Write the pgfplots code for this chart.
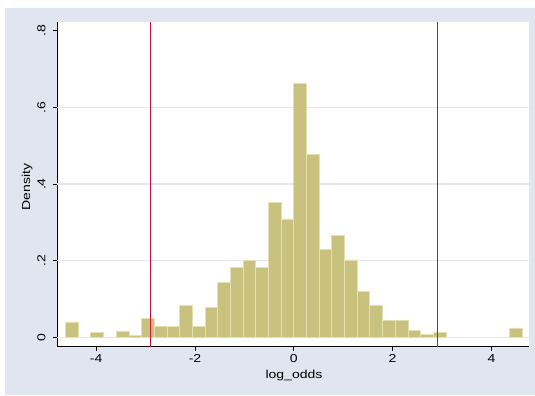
\documentclass[border=0pt]{standalone}
\usepackage{fontspec}
\setmainfont{Liberation Sans}[FakeStretch=1.22]
\usepackage{pgfplots}
\pgfplotsset{compat=1.18}
\definecolor{bgc}{RGB}{224,229,240}
\definecolor{barfill}{RGB}{201,193,126}
\definecolor{baredge}{RGB}{228,224,178}
\definecolor{xlinec}{RGB}{200,16,60}
\definecolor{gridc}{RGB}{226,231,241}
\begin{document}
\begin{tikzpicture}
\fill[white] (0bp,0bp) rectangle (535bp,396bp);
\fill[bgc] (5bp,1bp) rectangle (535bp,388bp);
\begin{axis}[
  at={(57.3bp,49.3bp)}, anchor=south west,
  width=472bp, height=324.7bp, scale only axis,
  xmin=-4.787, xmax=4.767, ymin=-0.0245, ymax=0.823,
  axis lines=left, axis line style={-, black, line width=0.8bp},
  axis background/.style={fill=white},
  xtick={-4,-2,0,2,4}, xticklabels={-4,-2,0,2,4},
  ytick={0,0.2,0.4,0.6,0.8}, yticklabels={0,.2,.4,.6,.8},
  extra y ticks={0,0.2,0.4,0.6}, extra y tick labels={},
  extra y tick style={ymajorgrids=true, major tick length=0pt,
     major grid style={gridc, line width=1.2bp}},
  tick align=outside, major tick length=4.7bp,
  tick style={black, line width=0.8bp},
  tick label style={font=\fontsize{11.5bp}{13bp}\selectfont},
  label style={font=\fontsize{11.5bp}{13bp}\selectfont},
  xticklabel style={anchor=north, inner sep=0pt, yshift=-3bp},
  yticklabel style={rotate=90, anchor=south, inner sep=0pt, yshift=7bp},
  xlabel={log\_odds}, ylabel={Density},
  xlabel style={at={(axis description cs:0.5015,-0.0964)}, anchor=base},
  ylabel style={at={(axis description cs:-0.0578,0.4918)}, anchor=base},
  clip=false,
]
\addplot[ybar, bar width=0.2567, bar shift=0, fill=barfill, draw=baredge, line width=0.8bp]
coordinates {
(-4.4926,0.040) (-3.9792,0.012) (-3.4655,0.0165) (-3.2088,0.006)
(-2.952,0.050) (-2.695,0.028) (-2.439,0.028) (-2.182,0.082)
(-1.925,0.028) (-1.668,0.078) (-1.412,0.144) (-1.155,0.182)
(-0.898,0.201) (-0.642,0.182) (-0.385,0.351) (-0.128,0.309)
(0.128,0.663) (0.385,0.478) (0.642,0.230) (0.898,0.267)
(1.155,0.202) (1.412,0.119) (1.668,0.082) (1.925,0.043)
(2.182,0.043) (2.439,0.019) (2.695,0.008) (2.952,0.012)
(4.492,0.022)
};
\addplot[draw=xlinec, line width=1.3bp, no marks] coordinates {(2.905,-0.0245) (2.905,0.823)};
\addplot[draw=xlinec, line width=1.3bp, no marks] coordinates {(-2.905,-0.0245) (-2.905,0.823)};
\end{axis}
\end{tikzpicture}
\end{document}
